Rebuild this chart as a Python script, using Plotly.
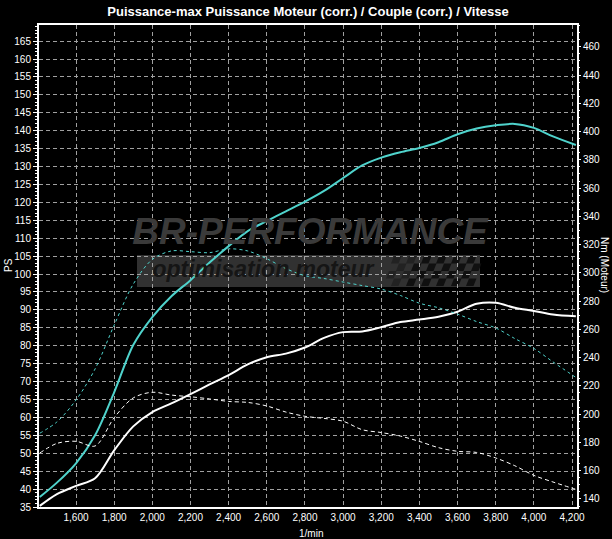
import plotly.graph_objects as go

# ---------------- data ----------------
rpm = [1410, 1500, 1600, 1700, 1800, 1900, 2000, 2100, 2200, 2300, 2400, 2500,
       2600, 2700, 2800, 2900, 3000, 3100, 3200, 3300, 3400, 3500, 3600, 3700,
       3800, 3900, 4000, 4100, 4220]

power_tuned = [37.8, 41.8, 47.2, 55.0, 67.0, 80.2, 88.0, 93.8, 98.3, 103.2, 107.8, 112.0,
               114.8, 117.5, 120.2, 123.2, 126.8, 130.3, 132.5, 134.0, 135.2, 136.8, 139.0, 140.6,
               141.5, 141.9, 140.8, 138.4, 136.0]

power_stock = [35.3, 38.6, 40.9, 43.0, 50.8, 57.5, 61.5, 63.9, 66.5, 69.2, 71.8, 74.8,
               76.8, 77.8, 79.5, 82.2, 83.8, 84.0, 85.2, 86.6, 87.3, 88.1, 89.5, 91.7,
               92.0, 90.6, 89.7, 88.7, 88.2]

torque_tuned = [186.5, 194.5, 210.0, 232.0, 263.0, 292.0, 309.5, 315.5, 315.0, 314.3, 317.0, 315.5,
                310.0, 303.0, 298.0, 296.0, 293.5, 291.0, 288.5, 284.0, 278.5, 275.3, 270.8, 265.5,
                261.0, 253.5, 246.5, 237.0, 226.0]

torque_stock = [172.5, 179.3, 180.8, 177.5, 197.5, 211.5, 215.5, 213.5, 212.3, 210.8, 209.0, 208.3,
                205.8, 201.5, 198.5, 197.0, 195.0, 189.0, 187.0, 184.5, 180.7, 176.3, 173.7, 172.9,
                169.0, 163.5, 156.7, 152.0, 146.8]

x_ticks = list(range(1600, 4201, 200))
ps_ticks = list(range(35, 166, 5))
nm_ticks = list(range(140, 461, 20))

title_text = "Puissance-max Puissance Moteur (corr.) / Couple (corr.) / Vitesse"
wm_big = "BR-PERFORMANCE"
wm_small = "optimisation moteur"

# ---------------- styling ----------------
W, H = 612, 539
ML, MR, MT, MB = 39, 35, 25, 32
PW, PH = W - ML - MR, H - MT - MB
CYAN = "#4fd3cc"
GRID = "#a0a0a0"
FONT = "Liberation Sans, Arial, sans-serif"


def px(x):
    return (x - ML) / PW


def py(y):
    return (H - MB - y) / PH


fig = go.Figure()

shapes = []
# banner
shapes.append(dict(type="rect", xref="paper", yref="paper",
                   x0=px(137), x1=px(480), y0=py(287), y1=py(255),
                   fillcolor="#313131", line=dict(width=0), layer="below"))
# checkered flag (decoration)
cell = 7.5
for r in range(4):
    for c in range(12):
        if (r + c) % 2:
            continue
        x0 = 392 + c * cell - r * 2.5
        y0 = 256 + r * cell
        if x0 < 392 - 8:
            continue
        col = "#101010" if c > 2 else "#222222"
        path = "M {a},{b} L {c_},{d} L {e},{f} L {g},{h} Z".format(
            a=px(x0 + 2), b=py(y0), c_=px(x0 + cell + 2), d=py(y0),
            e=px(x0 + cell - 1), f=py(y0 + cell), g=px(x0 - 1), h=py(y0 + cell))
        shapes.append(dict(type="path", xref="paper", yref="paper", path=path,
                           fillcolor=col, line=dict(width=0), layer="below"))

# watermark text (drawn before the curves so the curves stay on top)
fig.add_trace(go.Scatter(
    x=[px(310)], y=[py(235)], xaxis="x2", yaxis="y3", mode="text",
    text=["<b><i>" + wm_big + "</i></b>"],
    textfont=dict(family="Liberation Sans, Arial, sans-serif", size=37, color="#3a3a3a"),
    showlegend=False, hoverinfo="skip"))
fig.add_trace(go.Scatter(
    x=[px(263)], y=[py(271)], xaxis="x2", yaxis="y3", mode="text",
    text=["<b><i>" + wm_small + "</i></b>"],
    textfont=dict(family="Liberation Sans, Arial, sans-serif", size=23, color="#151515"),
    showlegend=False, hoverinfo="skip"))

# curves
fig.add_trace(go.Scatter(x=rpm, y=torque_stock, yaxis="y2", mode="lines",
                         line=dict(color="white", width=1, dash="4px,3px", shape="spline", smoothing=0.9),
                         showlegend=False))
fig.add_trace(go.Scatter(x=rpm, y=torque_tuned, yaxis="y2", mode="lines",
                         line=dict(color=CYAN, width=1, dash="3px,3px", shape="spline", smoothing=0.9),
                         showlegend=False))
fig.add_trace(go.Scatter(x=rpm, y=power_stock, mode="lines",
                         line=dict(color="white", width=2, shape="spline", smoothing=0.9),
                         showlegend=False))
fig.add_trace(go.Scatter(x=rpm, y=power_tuned, mode="lines",
                         line=dict(color=CYAN, width=2, shape="spline", smoothing=0.9),
                         showlegend=False))

tickfont = dict(family=FONT, size=10, color="white")

fig.update_layout(
    width=W, height=H,
    margin=dict(l=ML, r=MR, t=MT, b=MB, pad=0),
    paper_bgcolor="black", plot_bgcolor="black",
    title=dict(text="<b>" + title_text + "</b>", x=0.5, xref="paper", xanchor="center",
               y=1 - 11 / H, yref="container", yanchor="middle",
               font=dict(family=FONT, size=13, color="white")),
    xaxis=dict(range=[1406, 4226], tickvals=x_ticks, tickformat=",d",
               showgrid=True, gridcolor=GRID, griddash="4px,3px", gridwidth=1,
               showline=True, linecolor="white", linewidth=2, mirror=True,
               ticks="", tickfont=tickfont, zeroline=False),
    yaxis=dict(range=[35, 169.5], tickvals=ps_ticks,
               showgrid=True, gridcolor=GRID, griddash="4px,3px", gridwidth=1,
               showline=True, linecolor="white", linewidth=2,
               ticks="outside", ticklen=4, tickcolor="white", tickwidth=1,
               minor=dict(dtick=1, tick0=35, ticks="outside", ticklen=2, tickcolor="white", showgrid=False),
               tickfont=tickfont, zeroline=False),
    yaxis2=dict(range=[134.3, 475.4], tickvals=nm_ticks, overlaying="y", side="right",
                showgrid=False, showline=True, linecolor="white", linewidth=2,
                ticks="outside", ticklen=2, tickcolor="white",
                minor=dict(dtick=5, ticks="outside", ticklen=1, tickcolor="white"),
                tickfont=tickfont, zeroline=False),
    xaxis2=dict(range=[0, 1], overlaying="x", visible=False),
    yaxis3=dict(range=[0, 1], overlaying="y", visible=False),
    shapes=shapes,
    annotations=[
        dict(text="PS", xref="paper", yref="paper", x=px(8), y=py(265), textangle=-90,
             xanchor="center", yanchor="middle",
             showarrow=False, font=dict(family=FONT, size=10, color="white")),
        dict(text="Nm (Moteur)", xref="paper", yref="paper", x=px(605), y=py(265), textangle=90,
             xanchor="center", yanchor="middle",
             showarrow=False, font=dict(family=FONT, size=10, color="white")),
        dict(text="1/min", xref="paper", yref="paper", x=px(311), y=py(533),
             xanchor="center", yanchor="middle",
             showarrow=False, font=dict(family=FONT, size=10, color="white")),
    ],
)

fig.write_html(
    "out.html",
    config={"displayModeBar": False},
    post_script="document.body.style.margin='0';document.body.style.overflow='hidden';",
)
